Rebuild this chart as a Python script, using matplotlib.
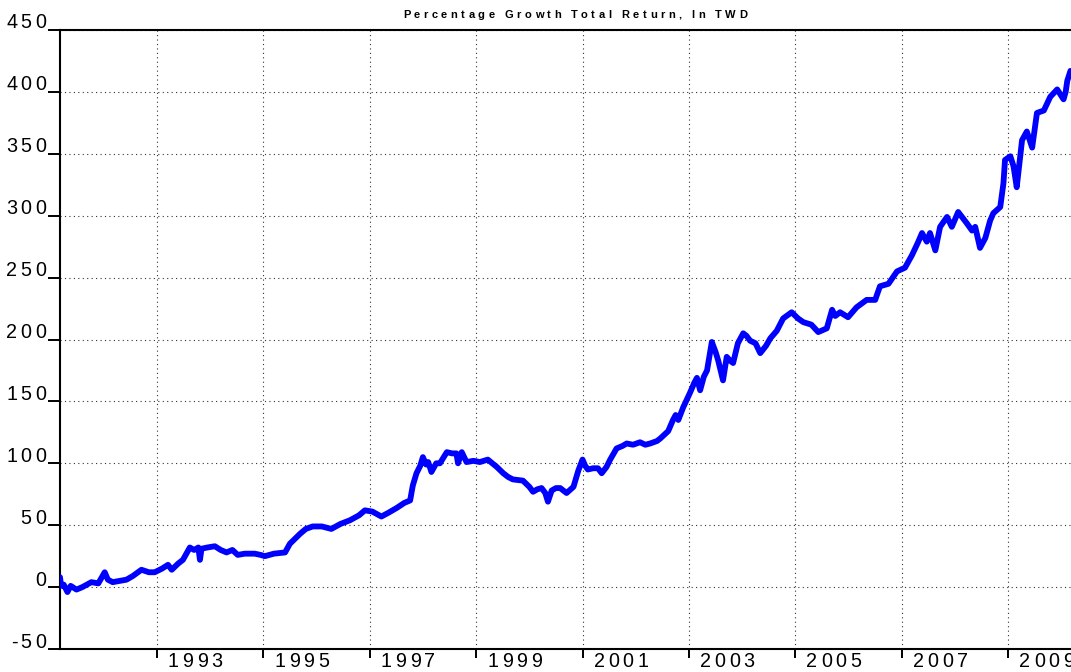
import matplotlib
matplotlib.use("Agg")
import matplotlib.pyplot as plt
from matplotlib.font_manager import FontProperties, findfont, get_font
from matplotlib.transforms import IdentityTransform

# ---------------- data ----------------
title = "Percentage Growth Total Return, In TWD"
years = [
    1991.18, 1991.20, 1991.25, 1991.32, 1991.38, 1991.49, 1991.60, 1991.77, 1991.90, 1992.02,
    1992.08, 1992.17, 1992.30, 1992.43, 1992.55, 1992.71, 1992.85, 1992.96, 1993.10, 1993.21,
    1993.28, 1993.40, 1993.49, 1993.62, 1993.70, 1993.78, 1993.81, 1993.84, 1993.95, 1994.09,
    1994.20, 1994.31, 1994.42, 1994.52, 1994.65, 1994.84, 1994.95, 1995.03, 1995.20, 1995.41,
    1995.50, 1995.69, 1995.80, 1995.93, 1996.10, 1996.28, 1996.45, 1996.63, 1996.80, 1996.91,
    1997.05, 1997.22, 1997.35, 1997.51, 1997.65, 1997.76, 1997.81, 1997.88, 1997.95, 1998.00,
    1998.06, 1998.10, 1998.16, 1998.25, 1998.32, 1998.45, 1998.55, 1998.63, 1998.66, 1998.73,
    1998.82, 1998.95, 1999.07, 1999.22, 1999.39, 1999.51, 1999.60, 1999.69, 1999.88, 2000.00,
    2000.07, 2000.15, 2000.23, 2000.30, 2000.35, 2000.42, 2000.50, 2000.58, 2000.70, 2000.83,
    2000.92, 2001.00, 2001.05, 2001.10, 2001.20, 2001.29, 2001.36, 2001.45, 2001.52, 2001.64,
    2001.75, 2001.83, 2001.95, 2002.08, 2002.18, 2002.27, 2002.40, 2002.46, 2002.61, 2002.70,
    2002.75, 2002.80, 2002.89, 2003.02, 2003.10, 2003.15, 2003.21, 2003.28, 2003.34, 2003.40,
    2003.43, 2003.50, 2003.55, 2003.64, 2003.71, 2003.77, 2003.83, 2003.92, 2004.02, 2004.08,
    2004.15, 2004.25, 2004.34, 2004.45, 2004.53, 2004.65, 2004.77, 2004.93, 2005.05, 2005.15,
    2005.30, 2005.43, 2005.59, 2005.69, 2005.75, 2005.84, 2005.99, 2006.15, 2006.34, 2006.50,
    2006.59, 2006.75, 2006.91, 2007.06, 2007.19, 2007.30, 2007.38, 2007.47, 2007.53, 2007.63,
    2007.72, 2007.85, 2007.94, 2008.06, 2008.15, 2008.22, 2008.32, 2008.38, 2008.47, 2008.57,
    2008.66, 2008.72, 2008.85, 2008.91, 2008.94, 2009.04, 2009.10, 2009.16, 2009.26, 2009.35,
    2009.45, 2009.54, 2009.67, 2009.79, 2009.92, 2010.04, 2010.08, 2010.11, 2010.17,
]
growth = [
    8, 1, 2, -4, 1, -2, 0, 4, 3, 12,
    6, 4, 5, 6, 9, 14, 12, 12, 15, 18,
    14, 19, 22, 32, 30, 32, 22, 31, 32, 33,
    30, 28, 30, 26, 27, 27, 26, 25, 27, 28,
    35, 43, 47, 49, 49, 47, 51, 54, 58, 62,
    61, 57, 60, 64, 68, 70, 82, 92, 98, 105,
    99, 101, 93, 100, 100, 109, 108, 108, 100, 109,
    101, 102, 101, 103, 97, 92, 89, 87, 86, 81,
    77, 79, 80, 76, 69, 78, 80, 80, 76, 81,
    94, 103, 98, 95, 96, 96, 92, 97, 103, 112,
    114, 116, 115, 117, 115, 116, 118, 120, 126, 135,
    139, 135, 145, 157, 165, 169, 159, 170, 175, 190,
    198, 190, 183, 167, 186, 183, 181, 197, 205, 203,
    199, 197, 189, 195, 201, 207, 217, 222, 217, 214,
    212, 206, 209, 224, 219, 222, 218, 226, 232, 232,
    243, 245, 255, 258, 268, 278, 286, 279, 286, 272,
    291, 299, 291, 303, 298, 294, 288, 291, 274, 282,
    296, 302, 307, 326, 345, 348, 340, 323, 361, 368,
    355, 383, 385, 396, 402, 394, 400, 409, 417,
]
y_ticks = [-50, 0, 50, 100, 150, 200, 250, 300, 350, 400, 450]
x_ticks = [1993, 1995, 1997, 1999, 2001, 2003, 2005, 2007, 2009]
x_range = (1991.18, 2010.18)
y_range = (-50, 450)

# ---------------- figure ----------------
W, H = 1071, 672
DPI = 100
fig = plt.figure(figsize=(W / DPI, H / DPI), dpi=DPI)
ax_l, ax_r, ax_t, ax_b = 60, 1071, 30, 649
ax = fig.add_axes([ax_l / W, (H - ax_b) / H, (ax_r - ax_l) / W, (ax_b - ax_t) / H])
ax.set_xlim(*x_range)
ax.set_ylim(*y_range)

ax.plot(years, growth, color="#0000ff", lw=4.2, solid_joinstyle="round",
        solid_capstyle="round", zorder=3)

ax.set_xticks(x_ticks)
ax.set_yticks(y_ticks)
ax.tick_params(axis="y", direction="out", length=8.6, width=1.4, color="black",
               labelleft=False)
ax.tick_params(axis="x", direction="out", length=6.5, width=1.4, color="black",
               labelbottom=False)
ax.grid(True, color="#333333", lw=0.8, linestyle=(0, (1, 3)))
for s in ["left", "bottom", "top"]:
    ax.spines[s].set_linewidth(1.5)
    ax.spines[s].set_color("black")
ax.spines["right"].set_visible(False)

FAMILY = "Liberation Sans"


def tracked(x_px, y_px, s, size, tracking, weight="normal", ha="left"):
    """Draw text with extra letter spacing; x_px, y_px in display pixels (baseline)."""
    fp = FontProperties(family=FAMILY, size=size, weight=weight)
    font = get_font(findfont(fp))
    font.set_size(size, DPI)
    adv = [font.load_char(ord(c)).linearHoriAdvance / 65536 for c in s]
    total = sum(adv) + tracking * (len(s) - 1)
    if ha == "right":
        x0 = x_px - total
    elif ha == "center":
        x0 = x_px - total / 2
    else:
        x0 = x_px
    for c, a in zip(s, adv):
        if c != " ":
            fig.text(x0, y_px, c, transform=IdentityTransform(), fontproperties=fp,
                     ha="left", va="baseline", color="black")
        x0 += a + tracking
    return total


# y tick labels
for v in y_ticks:
    _, yd = ax.transData.transform((x_range[0], v))
    tracked(46, yd + 1.5, f"{v}", 14.2, 3.3, ha="right")

# x tick labels
for t in x_ticks:
    xd, _ = ax.transData.transform((t, y_range[0]))
    tracked(xd + 11, H - 667, f"{t}", 14.2, 3.6, ha="left")

# title
fp_t = FontProperties(family=FAMILY, size=8, weight="bold")
f_t = get_font(findfont(fp_t))
f_t.set_size(8, DPI)
nat = sum(f_t.load_char(ord(c)).linearHoriAdvance / 65536 for c in title)
trk = (344 - nat) / (len(title) - 1)
tracked(575, H - 17.5, title, 8, trk, weight="bold", ha="center")

fig.savefig("out.png", dpi=DPI)
